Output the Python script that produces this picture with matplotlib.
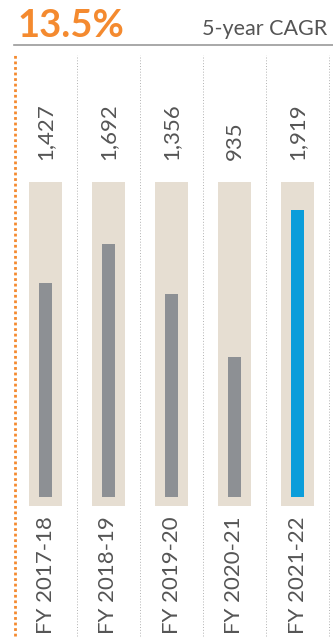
import matplotlib
matplotlib.use("Agg")
import matplotlib.pyplot as plt
from matplotlib.lines import Line2D
from matplotlib.transforms import blended_transform_factory

# Data
years = ["FY 2017-18", "FY 2018-19", "FY 2019-20", "FY 2020-21", "FY 2021-22"]
values = [1427, 1692, 1356, 935, 1919]
value_labels = ["1,427", "1,692", "1,356", "935", "1,919"]
headline = "13.5%"
headline_caption = "5-year CAGR"

# Styling
ORANGE = "#F48A2F"
TEXT = "#555555"
TRACK = "#E6DED2"
BAR_GREY = "#8D9094"
BAR_BLUE = "#0B9DDA"
GRID = "#A8A8A8"

W, H = 333, 644
fig = plt.figure(figsize=(W / 100, H / 100), dpi=100)
plt.rcParams["font.family"] = ["Lato", "DejaVu Sans"]

def fx(px):
    return px / W

def fy(py):
    return 1 - py / H

# Plot area: columns between x=14 and x=329 px, from y=55 to y=636 px
left, right, top, bottom = 14, 329, 55, 636
ax = fig.add_axes([fx(left), fy(bottom), fx(right - left), (bottom - top) / H])
ax.set_xlim(0, len(years))
ymin, ymax = -930, 2953
ax.set_ylim(ymin, ymax)
ax.axis("off")

n = len(years)
centers = [i + 0.5 for i in range(n)]

# Background tracks behind each bar
track_top, track_pad = 2104, 60
ax.bar(centers, [track_top + track_pad] * n, bottom=-track_pad, width=0.52,
       color=TRACK, zorder=1)

# Value bars (latest year highlighted)
colors = [BAR_GREY] * (n - 1) + [BAR_BLUE]
ax.bar(centers, values, width=0.222, color=colors, zorder=2)

# Column separators
ax.axvline(0.01, color=ORANGE, lw=2.0, linestyle=(0, (1, 1.0)), zorder=3,
           clip_on=False)
for i in range(1, n + 1):
    ax.axvline(i, color=GRID, lw=0.6, linestyle=(0, (1.2, 2.2)), zorder=3,
               clip_on=False)

# Labels
tr = blended_transform_factory(ax.transData, ax.transAxes)
val_y = (bottom - 160) / (bottom - top)
cat_y = (bottom - 634) / (bottom - top)
for c, vl, yr in zip(centers, value_labels, years):
    ax.text(c, val_y, vl, transform=tr, rotation=90, ha="center", va="bottom",
            fontsize=16, color=TEXT)
    ax.text(c, cat_y, yr, transform=tr, rotation=90, ha="center", va="bottom",
            fontsize=16, color=TEXT)

# Header
fig.text(fx(17), fy(37), headline, fontsize=27.5, fontweight="bold", color=ORANGE,
         ha="left", va="baseline")
fig.text(fx(327), fy(35), headline_caption, fontsize=15.5, color=TEXT,
         ha="right", va="baseline")
fig.add_artist(Line2D([fx(14), 1], [fy(45), fy(45)], transform=fig.transFigure,
                      color="#9A9A9A", lw=1.2))

fig.savefig("out.png", dpi=100)
